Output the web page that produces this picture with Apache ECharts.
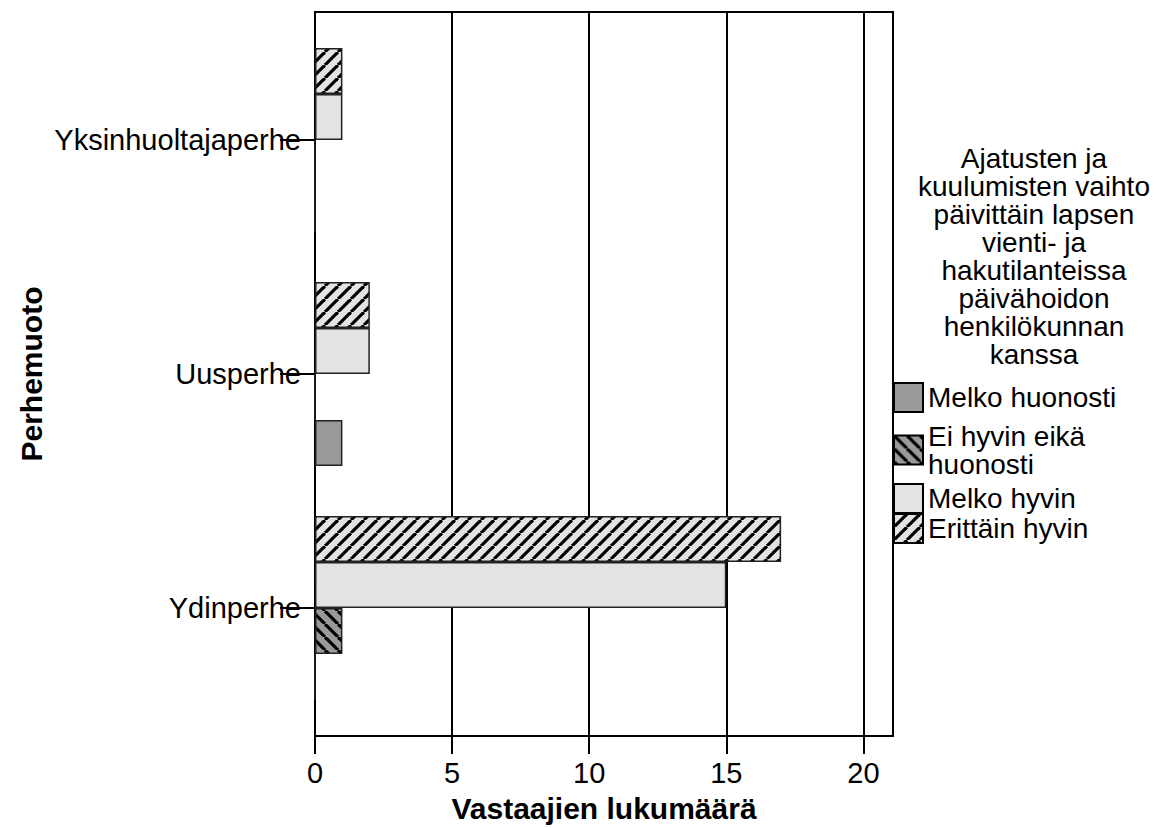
<!DOCTYPE html>
<html>
<head>
<meta charset="utf-8">
<script src="https://cdn.jsdelivr.net/npm/echarts@6/dist/echarts.min.js"></script>
<style>
html,body{margin:0;padding:0;background:#fff;}
#chart{width:1174px;height:828px;}
</style>
</head>
<body>
<div id="chart"></div>
<script>
// ---- data ----
var categories = ['Ydinperhe', 'Uusperhe', 'Yksinhuoltajaperhe'];
var seriesNames = ['Melko huonosti', 'Ei hyvin eikä huonosti', 'Melko hyvin', 'Erittäin hyvin'];
var melkoHuonosti = [0, 1, 0];
var eiHyvinEikaHuonosti = [1, 0, 0];
var melkoHyvin = [15, 2, 1];
var erittainHyvin = [17, 2, 1];
var xTickInterval = 5;
var legendTitle = 'Ajatusten ja\nkuulumisten vaihto\npäivittäin lapsen\nvienti- ja\nhakutilanteissa\npäivähoidon\nhenkilökunnan\nkanssa';

function hatch(bg, dir) {
  var s = 13;
  var c = document.createElement('canvas');
  c.width = s; c.height = s;
  var g = c.getContext('2d');
  g.fillStyle = bg; g.fillRect(0, 0, s, s);
  g.strokeStyle = '#000'; g.lineWidth = 3.2;
  for (var k = -1; k <= 1; k++) {
    g.beginPath();
    if (dir === 'fwd') { g.moveTo(k * s, s); g.lineTo(k * s + s, 0); }
    else { g.moveTo(k * s, 0); g.lineTo(k * s + s, s); }
    g.stroke();
  }
  return { image: c, repeat: 'repeat' };
}

var FONT = '"Liberation Sans", Arial, sans-serif';
var fills = ['#999999', hatch('#999999', 'back'), '#e3e3e3', hatch('#e3e3e3', 'fwd')];
var values = [melkoHuonosti, eiHyvinEikaHuonosti, melkoHyvin, erittainHyvin];
var xMax = 21.08;

var chart = echarts.init(document.getElementById('chart'), null, { renderer: 'svg' });

// first series is drawn at the top of each band, so add them in reverse
var series = [];
for (var i = seriesNames.length - 1; i >= 0; i--) {
  series.push({
    name: seriesNames[i], type: 'bar', xAxisIndex: 0, yAxisIndex: 0,
    data: values[i], barWidth: 46, barGap: '0%',
    itemStyle: { color: fills[i], borderColor: '#222', borderWidth: 1.5 },
    emphasis: { disabled: true }, silent: true
  });
}

var legendTops = [382, 422, 483, 513];
var legends = seriesNames.map(function (n, i) {
  return {
    data: [n], orient: 'vertical', left: 893, top: legendTops[i], padding: 0,
    itemWidth: 29, itemHeight: 29, icon: 'rect', selectedMode: false,
    itemStyle: { borderColor: '#000', borderWidth: 2 },
    formatter: function (name) { return name === 'Ei hyvin eikä huonosti' ? 'Ei hyvin eikä\nhuonosti' : name; },
    textStyle: { fontFamily: FONT, fontSize: 28, lineHeight: 28, color: '#000' }
  };
});

chart.setOption({
  animation: false,
  backgroundColor: '#fff',
  title: {
    text: legendTitle, left: 1034, top: 144, textAlign: 'center', padding: 0,
    textStyle: { fontFamily: FONT, fontSize: 28, lineHeight: 28, fontWeight: 'normal', color: '#000' }
  },
  legend: legends,
  grid: [
    { left: 315, width: 578, top: 23, height: 702, containLabel: false },
    { left: 315, width: 578, top: 12, height: 724, show: true, borderColor: '#000', borderWidth: 2, backgroundColor: 'transparent', containLabel: false }
  ],
  xAxis: [
    { type: 'value', gridIndex: 0, min: 0, max: xMax, show: false },
    {
      type: 'value', gridIndex: 1, min: 0, max: xMax, interval: xTickInterval,
      axisLine: { show: true, lineStyle: { color: '#000', width: 2 } },
      axisTick: { show: true, length: 18, lineStyle: { color: '#000', width: 2 } },
      axisLabel: { fontFamily: FONT, fontSize: 29, color: '#000', margin: 22, showMaxLabel: false },
      splitLine: { show: true, lineStyle: { color: '#000', width: 2 } },
      name: 'Vastaajien lukumäärä', nameLocation: 'middle', nameGap: 57,
      nameTextStyle: { fontFamily: FONT, fontSize: 30, fontWeight: 'bold', color: '#000' }
    }
  ],
  yAxis: [
    {
      type: 'category', gridIndex: 0, data: categories,
      axisLine: { show: false },
      axisTick: { show: true, alignWithLabel: true, length: 35, lineStyle: { color: '#000', width: 2 } },
      axisLabel: { fontFamily: FONT, fontSize: 29, color: '#000', margin: 14 },
      splitLine: { show: false },
      name: 'Perhemuoto', nameLocation: 'middle', nameGap: 269,
      nameTextStyle: { fontFamily: FONT, fontSize: 30, fontWeight: 'bold', color: '#000' }
    },
    { type: 'value', gridIndex: 1, min: 0, max: 1, show: false }
  ],
  series: series
});
</script>
</body>
</html>
